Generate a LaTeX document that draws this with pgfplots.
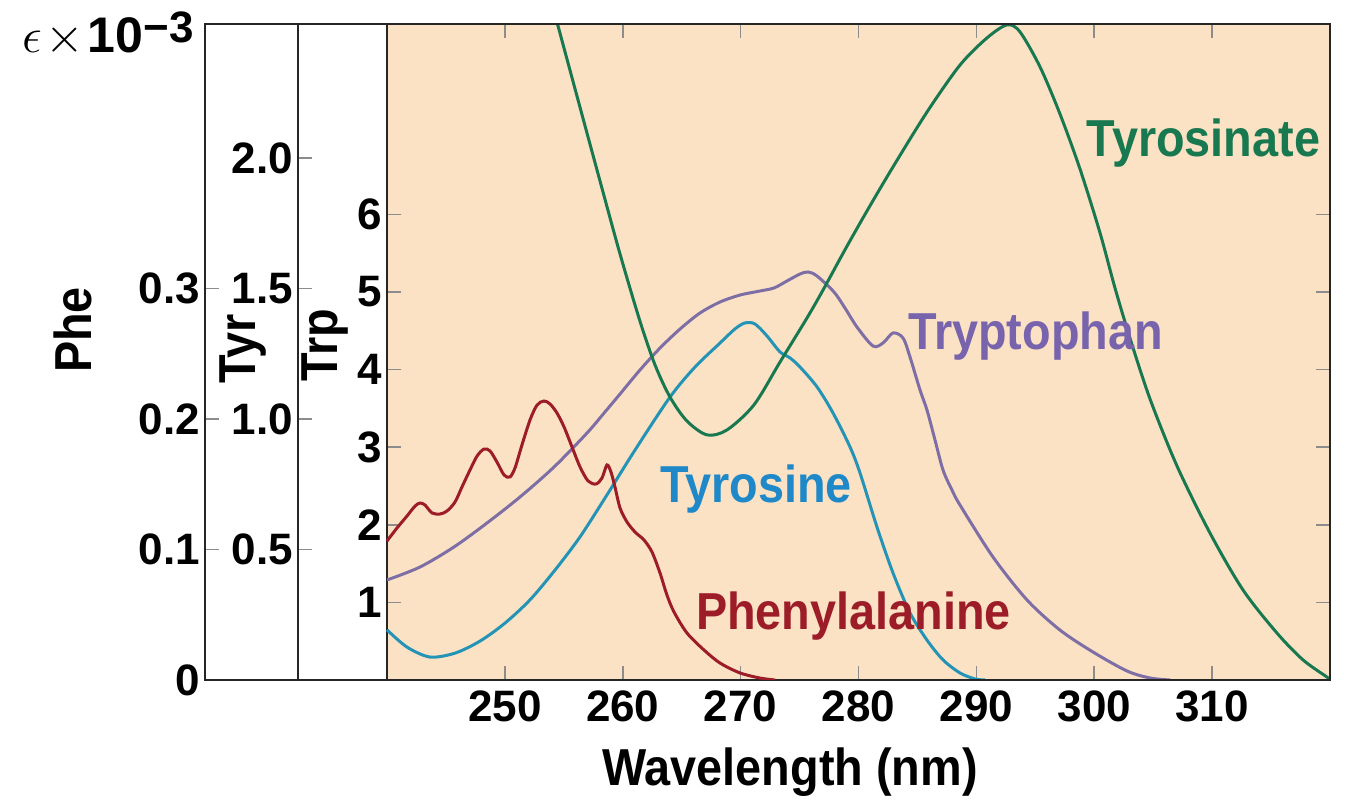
\documentclass[border=0pt]{standalone}
\usepackage{fontspec}
\setmainfont{Liberation Sans}
\newfontfamily\condfont{Liberation Sans}[FakeStretch=0.9]
\usepackage{pgfplots}
\pgfplotsset{compat=1.18}
\definecolor{peach}{RGB}{252,226,196}
\definecolor{tgreen}{RGB}{24,120,80}
\definecolor{tpurple}{RGB}{126,110,166}
\definecolor{tpurpletext}{RGB}{120,100,172}
\definecolor{tteal}{RGB}{36,148,182}
\definecolor{tblue}{RGB}{30,136,200}
\definecolor{tred}{RGB}{156,28,40}
\pgfplotsset{
  base/.style={
    scale only axis, height=328pt, ymin=0, xmax=320,
    axis line style={draw=black!85, line width=1.2pt},
    tick style={draw=black!45, line width=0.8pt},
    major tick length=7pt, tick align=inside,
    /pgf/number format/assume math mode=true,
    yticklabel style={font=\bfseries\fontsize{22}{22}\selectfont, xshift=1pt},
    xticklabel style={font=\bfseries\fontsize{22}{22}\selectfont, yshift=-2pt},
    every axis plot/.append style={line width=1.5pt, smooth, tension=0.5, no marks},
  }
}
\begin{document}
\begin{tikzpicture}
\useasboundingbox (0,0) rectangle (675pt,404.5pt);
% Main (Trp) axis
\begin{axis}[base, at={(193.5pt,64.5pt)}, anchor=south west, width=471.5pt,
  xmin=240, ymax=8.454,
  axis background/.style={fill=peach},
  xtick={250,260,270,280,290,300,310},
  xticklabels={250,260,270,280,290,300,310},
  xtick pos=both, xticklabel pos=lower,
  ytick={1,2,3,4,5,6}, yticklabels={1,2,3,4,5,6},
  ytick pos=both, yticklabel pos=left]
\addplot[tpurple] coordinates {
(240.00,1.289) (242.80,1.456) (245.68,1.714) (248.48,2.023) (251.28,2.358)
(254.17,2.745) (256.97,3.183) (258.49,3.454) (259.77,3.686) (261.46,3.995)
(263.16,4.278) (264.86,4.523) (266.55,4.729) (268.25,4.871) (269.95,4.961)
(271.64,5.013) (272.83,5.052) (273.93,5.142) (275.04,5.232) (275.72,5.258)
(276.48,5.206) (277.92,5.000) (278.85,4.794) (279.87,4.549) (281.23,4.304)
(282.08,4.343) (282.93,4.472) (283.78,4.407) (284.37,4.162) (285.22,3.737)
(285.81,3.479) (286.49,3.093) (287.17,2.706) (287.93,2.448) (288.61,2.255)
(291.41,1.585) (294.30,1.031) (297.09,0.644) (299.89,0.361) (302.78,0.116)
(304.73,0.026) (306.43,0)
};
\end{axis}
% Tyr axis
\begin{axis}[base, at={(149pt,64.5pt)}, anchor=south west, width=516pt,
  xmin=232.45, ymax=2.5134,
  xtick=\empty,
  ytick={0.5,1,1.5,2}, yticklabels={0.5,1.0,1.5,2.0}, ytick pos=left]
\addplot[tteal] coordinates {
(240.00,0.192) (241.70,0.126) (243.65,0.088) (245.77,0.103) (247.89,0.149)
(250.01,0.218) (252.13,0.307) (254.25,0.421) (256.37,0.548) (258.66,0.709)
(261.04,0.881) (264.01,1.084) (266.13,1.199) (268.25,1.291) (269.52,1.345)
(270.37,1.368) (271.22,1.364) (272.24,1.318) (273.34,1.257) (274.19,1.234)
(275.04,1.199) (276.48,1.123) (277.84,1.023) (279.28,0.893) (280.13,0.793)
(281.57,0.586) (282.93,0.410) (284.37,0.257) (285.81,0.153) (287.17,0.077)
(288.61,0.027) (289.88,0.004) (290.73,0)
};
\addplot[tgreen] coordinates {
(253.83,2.621) (254.42,2.521) (256.37,2.195) (258.07,1.912) (259.77,1.632)
(261.46,1.375) (262.74,1.207) (264.01,1.084) (265.45,0.992) (267.15,0.939)
(268.84,0.958) (271.13,1.054) (273.34,1.218) (275.63,1.387) (276.99,1.494)
(278.85,1.648) (280.72,1.797) (282.93,1.966) (285.81,2.176) (288.61,2.356)
(290.90,2.460) (292.60,2.510) (293.70,2.483) (295.40,2.349) (297.09,2.169)
(298.79,1.958) (300.49,1.713) (301.76,1.502) (303.03,1.310) (304.73,1.077)
(307.02,0.820) (309.82,0.563) (312.62,0.345) (315.50,0.180) (317.71,0.077)
(319.75,0.011) (320,0)
};
\end{axis}
% Phe axis
\begin{axis}[base, at={(102.5pt,64.5pt)}, anchor=south west, width=562.5pt,
  xmin=224.56, ymax=0.5027,
  xtick=\empty,
  ytick={0,0.1,0.2,0.3}, yticklabels={0,0.1,0.2,0.3}, ytick pos=left]
\addplot[tred] coordinates {
(240.00,0.1065) (240.85,0.1165) (241.70,0.1257) (242.38,0.1333) (242.80,0.1356)
(243.22,0.1341) (243.82,0.1280) (244.50,0.1272) (245.09,0.1295) (245.77,0.1364)
(246.36,0.1479) (247.04,0.1609) (247.64,0.1716) (248.23,0.1770) (248.74,0.1755)
(249.33,0.1670) (249.93,0.1571) (250.43,0.1556) (250.86,0.1625) (251.45,0.1801)
(252.13,0.1992) (252.73,0.2107) (253.32,0.2138) (253.83,0.2115) (254.42,0.2046)
(255.02,0.1939) (255.70,0.1785) (256.38,0.1632) (257.06,0.1525) (257.73,0.1502)
(258.24,0.1548) (258.66,0.1648) (259.00,0.1594) (259.34,0.1479) (259.77,0.1318)
(260.36,0.1211) (261.04,0.1134) (261.80,0.1073) (262.48,0.0981) (263.16,0.0820)
(263.75,0.0651) (264.35,0.0521) (265.45,0.0360) (266.89,0.0230) (268.25,0.0130)
(269.95,0.0054) (271.64,0.0015) (272.92,0)
};
\end{axis}
% texts
\node[anchor=base east, inner sep=0pt] at (97pt,378pt)
  {{\fontsize{24}{24}\selectfont$\epsilon$}\,{\fontsize{24}{24}\selectfont$\times$}\,{\bfseries\fontsize{25}{25}\selectfont 10\raisebox{5pt}{\fontsize{22}{22}\selectfont −3}}};
\node[rotate=90, font=\condfont\bfseries\fontsize{26}{26}\selectfont] at (36.5pt,239.5pt) {Phe};
\node[rotate=90, font=\condfont\bfseries\fontsize{26}{26}\selectfont] at (121.75pt,230pt) {Tyr};
\node[rotate=90, font=\condfont\bfseries\fontsize{26}{26}\selectfont] at (162.75pt,232pt) {Trp};
\node[anchor=base, font=\condfont\bfseries\fontsize{26}{26}\selectfont] at (395pt,12pt) {Wavelength (nm)};
\node[anchor=base, text=tgreen, font=\condfont\bfseries\fontsize{26}{26}\selectfont] at (601.75pt,326pt) {Tyrosinate};
\node[anchor=base, text=tpurpletext, font=\condfont\bfseries\fontsize{26}{26}\selectfont] at (517.75pt,229.5pt) {Tryptophan};
\node[anchor=base, text=tblue, font=\condfont\bfseries\fontsize{26}{26}\selectfont] at (378pt,153pt) {Tyrosine};
\node[anchor=base, text=tred, font=\condfont\bfseries\fontsize{26}{26}\selectfont] at (426.75pt,89.5pt) {Phenylalanine};
\end{tikzpicture}
\end{document}
